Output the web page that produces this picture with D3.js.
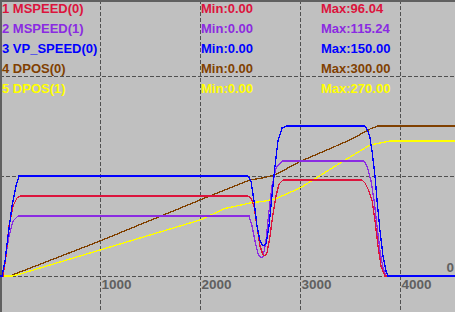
<!DOCTYPE html>
<html>
<head>
<meta charset="utf-8">
<script src="https://cdn.jsdelivr.net/npm/d3@7"></script>
<style>
  body { margin: 0; background: #c0c0c0; }
  svg { display: block; }
  text { font-family: "Liberation Sans", Arial, sans-serif; font-weight: bold; }
</style>
</head>
<body>
<div id="chart"></div>
<script>
// trace names, colours and min/max labels
var names = ["1 MSPEED(0)", "2 MSPEED(1)", "3 VP_SPEED(0)", "4 DPOS(0)", "5 DPOS(1)"];
var colors = ["#dc143c", "#8a2be2", "#0000ff", "#804000", "#ffff00"];
var mins = ["Min:0.00", "Min:0.00", "Min:0.00", "Min:0.00", "Min:0.00"];
var maxs = ["Max:96.04", "Max:115.24", "Max:150.00", "Max:300.00", "Max:270.00"];

var xTicks = [1000, 2000, 3000, 4000];
var speedGrid = [0, 100, 200];

// [time, value]
var mspeed0 = [[0,0],[30,0],[60,20],[90,50],[130,70],[170,78],[200,80],[2480,80],[2510,78],[2540,70],
  [2570,50],[2600,30],[2630,21],[2650,20],[2670,23],[2700,40],[2730,62],[2760,80],[2790,92],[2830,96],
  [3620,96],[3650,93],[3690,85],[3720,76],[3750,55],[3780,30],[3810,10],[3850,0],[4550,0]];
var mspeed1 = [[0,0],[20,0],[50,15],[90,40],[130,55],[180,60],[2490,60],[2520,50],[2550,35],[2580,22],
  [2610,18],[2630,19],[2660,35],[2690,65],[2720,90],[2760,108],[2820,115],[3640,115],[3670,110],
  [3710,95],[3740,76],[3770,50],[3800,25],[3830,8],[3860,0],[4550,0]];
var vpSpeed0 = [[0,0],[20,0],[50,15],[80,40],[120,70],[160,90],[190,100],[2480,100],[2510,95],[2540,75],
  [2570,50],[2600,35],[2630,30],[2660,32],[2690,50],[2720,80],[2750,110],[2780,135],[2820,148],[2870,150],
  [3650,150],[3680,145],[3700,138],[3720,125],[3750,100],[3770,76],[3800,45],[3830,20],[3860,5],[3880,0],[4550,0]];
var dpos0 = [[0,0],[100,0],[200,8],[1000,70],[2000,152],[2250,172],[2500,192],[2620,196],[2750,202],
  [3000,229],[3500,272],[3700,294],[3780,300],[4550,300]];
var dpos1 = [[0,0],[120,0],[200,4],[1000,52],[2000,112],[2250,135],[2500,146],[2650,150],[2750,154],
  [3000,176],[3500,238],[3700,262],[3900,270],[4550,270]];

var W = 455, H = 312;

var svg = d3.select("#chart").append("svg")
    .attr("width", W)
    .attr("height", H);

svg.append("rect").attr("width", W).attr("height", H).attr("fill", "#c0c0c0");

var x = d3.scaleLinear().domain([0, 4550]).range([0, 455]);
var ySpeed = d3.scaleLinear().domain([0, 276]).range([276, 0]);
var yPos = d3.scaleLinear().domain([0, 552]).range([276, 0]);

// grid
svg.selectAll("line.vgrid")
    .data(xTicks)
    .enter()
    .append("line")
    .attr("x1", function(d) { return Math.round(x(d)) + 0.5; })
    .attr("x2", function(d) { return Math.round(x(d)) + 0.5; })
    .attr("y1", 0)
    .attr("y2", H)
    .attr("stroke", "#505050")
    .attr("stroke-dasharray", "4,2");

svg.selectAll("line.hgrid")
    .data(speedGrid)
    .enter()
    .append("line")
    .attr("x1", 0)
    .attr("x2", W)
    .attr("y1", function(d) { return Math.round(ySpeed(d)) + 0.5; })
    .attr("y2", function(d) { return Math.round(ySpeed(d)) + 0.5; })
    .attr("stroke", "#505050")
    .attr("stroke-dasharray", "4,2");

// frame top/left
svg.append("line").attr("x1", 0).attr("x2", W).attr("y1", 1).attr("y2", 1)
    .attr("stroke", "#606060").attr("stroke-width", 2);
svg.append("line").attr("x1", 1).attr("x2", 1).attr("y1", 0).attr("y2", H)
    .attr("stroke", "#606060").attr("stroke-width", 2);

// x tick labels
var xAxis = svg.append("g")
    .attr("transform", "translate(0,276)")
    .call(d3.axisBottom(x).tickValues(xTicks).tickSize(0).tickFormat(d3.format("d")));
xAxis.select(".domain").remove();
xAxis.selectAll("text")
    .attr("y", 0)
    .attr("dy", "12.5")
    .attr("x", 1)
    .style("text-anchor", "start")
    .style("font-size", "13.5px")
    .style("font-family", "'Liberation Sans', Arial, sans-serif")
    .style("font-weight", "bold")
    .attr("fill", "#606060");

svg.append("text")
    .attr("x", 454)
    .attr("y", 271.5)
    .attr("text-anchor", "end")
    .attr("fill", "#606060")
    .style("font-size", "13.5px")
    .text("0");

// traces
var lineSpeed = d3.line()
    .x(function(d) { return x(d[0]); })
    .y(function(d) { return ySpeed(d[1]); });
var linePos = d3.line()
    .x(function(d) { return x(d[0]); })
    .y(function(d) { return yPos(d[1]); });

var traces = [
    { data: dpos0, gen: linePos, color: colors[3] },
    { data: dpos1, gen: linePos, color: colors[4] },
    { data: mspeed1, gen: lineSpeed, color: colors[1] },
    { data: mspeed0, gen: lineSpeed, color: colors[0] },
    { data: vpSpeed0, gen: lineSpeed, color: colors[2] }
];

svg.selectAll("path.trace")
    .data(traces)
    .enter()
    .append("path")
    .attr("class", "trace")
    .attr("d", function(d) { return d.gen(d.data); })
    .attr("fill", "none")
    .attr("stroke", function(d) { return d.color; })
    .attr("stroke-width", 1.3)
    .attr("shape-rendering", "crispEdges");

// legend
var legend = svg.selectAll("g.legend")
    .data(names)
    .enter()
    .append("g")
    .attr("class", "legend")
    .attr("transform", function(d, i) { return "translate(0," + (13 + i * 20) + ")"; });

legend.append("text").attr("x", 2)
    .attr("fill", function(d, i) { return colors[i]; })
    .style("font-size", "13px")
    .text(function(d) { return d; });
legend.append("text").attr("x", 201)
    .attr("fill", function(d, i) { return colors[i]; })
    .style("font-size", "13px")
    .text(function(d, i) { return mins[i]; });
legend.append("text").attr("x", 321)
    .attr("fill", function(d, i) { return colors[i]; })
    .style("font-size", "13px")
    .text(function(d, i) { return maxs[i]; });
</script>
</body>
</html>
